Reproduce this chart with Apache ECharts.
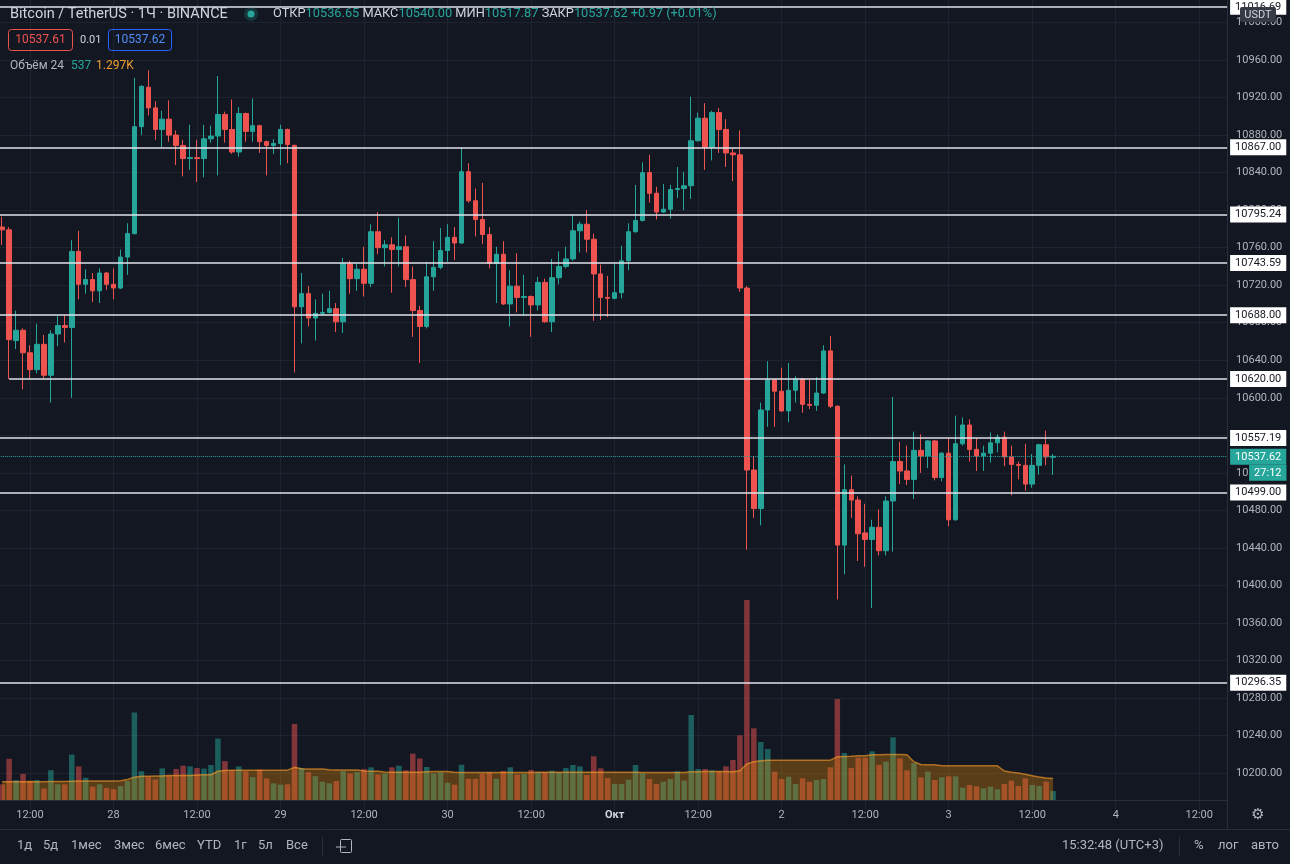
<!DOCTYPE html>
<html>
<head>
<meta charset="utf-8">
<script src="https://cdn.jsdelivr.net/npm/echarts@6/dist/echarts.min.js"></script>
<style>
html, body { margin: 0; padding: 0; background: #131722; }
#chart { width: 1290px; height: 864px; }
</style>
</head>
<body>
<div id="chart"></div>
<script>
// BTC/USDT 1h, Binance, 27 Sep 08:00 -> 3 Oct 15:00 (2020)
var startTime = Date.UTC(2020, 8, 27, 7);   // first (empty) slot on the axis
var slotCount = 178;
var firstCandle = 1;                         // slot of the first candle

var opens = [
  10782,10779,10661,10672,10648,10630,10657,10624,10668,10677,
  10675,10756,10721,10726,10714,10733,10721,10717,10750,10775,
  10889,10931,10909,10886,10897,10880,10869,10855,10856,10855,
  10876,10879,10902,10886,10862,10903,10884,10890,10873,10869,
  10871,10886,10869,10697,10711,10685,10690,10691,10695,10681,
  10743,10727,10737,10722,10777,10760,10763,10758,10761,10726,
  10693,10676,10729,10739,10757,10771,10765,10841,10810,10790,
  10774,10743,10753,10700,10719,10707,10708,10699,10723,10681,
  10728,10740,10748,10778,10785,10769,10732,10707,10706,10712,
  10746,10777,10789,10840,10818,10798,10801,10822,10823,10826,
  10874,10898,10867,10904,10886,10861,10859,10717,10523,10482,
  10587,10619,10607,10586,10608,10620,10593,10592,10605,10650,
  10591,10443,10502,10491,10456,10449,10462,10437,10490,10532,
  10522,10513,10544,10538,10554,10515,10541,10470,10551,10571,
  10545,10538,10541,10552,10558,10537,10529,10528,10508,10528,
  10550,10536.65
];
var highs = [
  10793,10782,10693,10674,10656,10679,10667,10672,10687,10688,
  10768,10778,10737,10733,10738,10734,10738,10758,10786,10941,
  10933,10949,10916,10906,10917,10885,10875,10891,10875,10891,
  10890,10943,10905,10918,10910,10904,10919,10891,10874,10876,
  10891,10887,10870,10733,10719,10705,10711,10714,10701,10749,
  10746,10743,10761,10785,10798,10768,10771,10792,10773,10740,
  10698,10745,10767,10781,10785,10782,10867,10850,10823,10829,
  10782,10761,10767,10736,10754,10731,10709,10729,10727,10748,
  10756,10761,10795,10788,10800,10775,10742,10730,10744,10762,
  10786,10827,10851,10859,10825,10828,10827,10846,10841,10921,
  10904,10914,10906,10909,10897,10866,10885,10719,10538,10595,
  10639,10620,10632,10637,10623,10621,10619,10622,10656,10666,
  10592,10529,10517,10495,10487,10470,10481,10495,10601,10553,
  10549,10564,10561,10555,10555,10542,10557,10581,10579,10577,
  10557,10549,10563,10561,10564,10549,10532,10551,10540,10551,
  10565,10540
];
var lows = [
  10763,10620,10652,10609,10620,10626,10621,10595,10655,10659,
  10600,10705,10711,10702,10701,10715,10705,10716,10731,10774,
  10880,10901,10875,10867,10873,10848,10836,10843,10830,10835,
  10872,10837,10872,10860,10857,10873,10873,10861,10837,10860,
  10848,10850,10627,10658,10676,10661,10688,10690,10670,10669,
  10711,10714,10708,10718,10753,10740,10712,10740,10718,10665,
  10637,10674,10714,10737,10745,10747,10764,10808,10772,10764,
  10738,10701,10699,10676,10691,10687,10665,10693,10680,10670,
  10721,10738,10746,10755,10755,10682,10683,10686,10705,10706,
  10736,10776,10788,10808,10790,10797,10791,10813,10800,10812,
  10873,10843,10853,10861,10846,10831,10713,10438,10472,10464,
  10569,10569,10585,10574,10595,10584,10588,10586,10604,10589,
  10385,10412,10472,10426,10420,10376,10432,10432,10436,10508,
  10507,10492,10520,10525,10512,10511,10463,10469,10549,10532,
  10522,10522,10531,10542,10527,10496,10513,10501,10504,10518,
  10528,10517.87
];
var closes = [
  10779,10662,10672,10648,10630,10657,10624,10668,10677,10675,
  10756,10721,10726,10714,10733,10721,10717,10750,10775,10889,
  10932,10909,10886,10897,10880,10869,10855,10856,10855,10876,
  10879,10902,10886,10862,10903,10884,10890,10873,10869,10871,
  10886,10870,10697,10711,10685,10690,10691,10695,10681,10743,
  10727,10737,10722,10777,10760,10763,10758,10761,10726,10693,
  10676,10729,10739,10757,10771,10765,10841,10810,10790,10774,
  10743,10753,10700,10719,10707,10708,10699,10723,10681,10728,
  10740,10748,10778,10785,10769,10732,10707,10706,10712,10746,
  10777,10789,10840,10818,10798,10801,10822,10823,10826,10874,
  10898,10867,10904,10886,10861,10859,10717,10523,10482,10587,
  10619,10607,10586,10608,10620,10593,10592,10605,10650,10591,
  10443,10502,10491,10455,10449,10462,10437,10490,10532,10522,
  10513,10544,10538,10554,10515,10541,10470,10551,10571,10545,
  10538,10541,10552,10558,10537,10529,10528,10508,10528,10550,
  10537,10537.62
];
var volumes = [
  941,2470,1196,1568,1137,1196,686,1784,941,941,
  2724,2019,1333,804,941,725,647,843,1137,5253,
  1725,1392,1235,1901,1470,1862,2058,2019,1921,1882,
  2097,3685,2332,1784,2019,1725,1372,1823,1294,1000,
  921,941,4567,1921,1666,1431,1098,1000,1137,1725,
  1588,1666,1862,1960,1529,1588,1960,2058,1784,2783,
  2489,1980,1588,1666,1039,921,2117,1274,1274,1588,
  1666,1274,1744,1960,1529,
  1560,1800,1660,1660,1760,1660,1920,2100,2020,1500,
  2620,1900,1320,960,960,1220,2100,1600,1260,960,
  1100,1260,1720,1160,5100,1860,1860,1780,1740,2020,
  2400,3880,12000,4300,3480,3060,1700,1260,1400,960,
  1300,1100,1200,1260,1960,6060,2820,1920,2540,2540,
  2920,2100,2300,3760,2500,1780,2220,1360,1700,1200,
  1360,1420,1420,740,900,820,700,800,640,960,
  1160,840,1300,900,840,1100,537
];
// volume moving average (24)
var volumeMA = [
  1090,1095,1100,1100,1105,1100,1100,1105,1110,1110,
  1130,1135,1140,1140,1140,1140,1145,1150,1235,1372,
  1420,1430,1435,1440,1465,1470,1470,1475,1505,1510,
  1515,1725,1770,1780,1784,1784,1790,1790,1785,1780,
  1784,1790,1960,1880,1862,1862,1855,1820,1805,1803,
  1800,1800,1740,1725,1720,1680,1670,1666,1666,1666,
  1670,1700,1705,1705,1705,1660,1650,1646,1646,1646,
  1646,1650,1650,1648,1646,
  1650,1655,1660,1660,1660,1662,1665,1665,1668,1668,
  1665,1665,1662,1660,1660,1660,1660,1655,1655,1650,
  1650,1650,1650,1645,1700,1700,1705,1705,1705,1705,
  1700,1760,2160,2300,2360,2380,2380,2380,2380,2380,
  2380,2380,2380,2385,2390,2600,2610,2620,2660,2660,
  2720,2720,2725,2730,2730,2720,2300,2130,2120,2110,
  2060,2060,2060,2060,2055,2060,2060,2060,2050,1740,
  1660,1620,1540,1460,1380,1320,1297
];
// horizontal levels drawn on the chart
var levels = [11016.69, 10867.00, 10795.24, 10743.59, 10688.00, 10557.19, 10499.00, 10296.35];
var rayLevel = 10620.00;       // ray starting at the second candle
var rayStartSlot = 2;
var lastPrice = 10537.62;
var countdown = '27:12';

var priceMin = 10160, priceMax = 11024, priceStep = 40;
var volumeMax = 14400;

var toolbarItems = ['1д', '5д', '1мес', '3мес', '6мес', 'YTD', '1г', '5л', 'Все'];
var toolbarX = [17, 43, 71, 114, 155, 197, 234, 258, 286];

var UP = '#26a69a', DOWN = '#ef5350';
var FONT = 'Roboto, sans-serif';

function pad(n) { return n < 10 ? '0' + n : '' + n; }
var categories = [];
for (var i = 0; i < slotCount; i++) {
  var d = new Date(startTime + i * 3600000);
  categories.push(d.getUTCFullYear() + '-' + pad(d.getUTCMonth() + 1) + '-' + pad(d.getUTCDate()) + ' ' + pad(d.getUTCHours()) + ':00');
}
function slotHour(v) { return parseInt(v.slice(11, 13), 10); }
function isMarkSlot(index, v) { var h = slotHour(v); return h === 0 || h === 12; }
function timeLabel(v) {
  var h = slotHour(v);
  if (h === 12) return '12:00';
  var day = parseInt(v.slice(8, 10), 10);
  return day === 1 ? '{m|Окт}' : String(day);
}

var candleData = [], volumeData = [], maData = [];
for (var s = 0; s < slotCount; s++) {
  var k = s - firstCandle;
  if (k >= 0 && k < opens.length) {
    candleData.push([opens[k], closes[k], lows[k], highs[k]]);
    var up = closes[k] >= opens[k];
    volumeData.push({ value: volumes[k], itemStyle: { color: up ? 'rgba(38,166,154,0.5)' : 'rgba(239,83,80,0.5)' } });
    maData.push(volumeMA[k]);
  } else {
    candleData.push('-');
    volumeData.push('-');
    maData.push('-');
  }
}

var levelLabel = {
  show: true, position: 'end', distance: 3,
  backgroundColor: '#ffffff', color: '#131722',
  padding: [3, 5, 2, 5], fontSize: 11, fontFamily: FONT
};
var levelLines = levels.map(function (v) {
  return { yAxis: v, label: { formatter: v.toFixed(2) } };
});
levelLines.push([
  { coord: [categories[rayStartSlot], rayLevel], label: { formatter: rayLevel.toFixed(2) } },
  { coord: [categories[slotCount - 1], rayLevel] }
]);

var toolbarGraphics = toolbarItems.map(function (t, i) {
  return { type: 'text', z: 100, style: { text: t, x: toolbarX[i], y: 846, verticalAlign: 'middle', fill: '#b2b5be', font: '13px ' + FONT } };
});

var option = {
  backgroundColor: '#131722',
  animation: false,
  grid: [
    { left: -4.8, right: 62.9, top: 0, height: 810.6, outerBoundsMode: 'none' },
    { left: -4.8, right: 62.9, top: 560, bottom: 64, outerBoundsMode: 'none' }
  ],
  xAxis: [
    {
      type: 'category', gridIndex: 0, data: categories, boundaryGap: false,
      axisLine: { show: false }, axisTick: { show: false },
      axisLabel: { show: false, interval: isMarkSlot },
      splitLine: { show: true, interval: isMarkSlot, lineStyle: { color: '#1f2330', width: 1 } }
    },
    {
      type: 'category', gridIndex: 1, data: categories, boundaryGap: false,
      axisLine: { show: true, lineStyle: { color: '#2a2e39' } },
      axisTick: { show: false },
      splitLine: { show: false },
      axisLabel: {
        interval: isMarkSlot, formatter: timeLabel, margin: 10,
        color: '#b2b5be', fontSize: 11, fontFamily: FONT,
        rich: { m: { color: '#d1d4dc', fontSize: 11, fontWeight: 'bold', fontFamily: FONT } }
      }
    }
  ],
  yAxis: [
    {
      type: 'value', gridIndex: 0, position: 'right',
      min: priceMin, max: priceMax, interval: priceStep,
      axisLine: { show: true, lineStyle: { color: '#2a2e39' } },
      axisTick: { show: false },
      axisLabel: {
        margin: 9, color: '#b2b5be', fontSize: 11, fontFamily: FONT,
        showMinLabel: false, showMaxLabel: false,
        formatter: function (v) { return v.toFixed(2); }
      },
      splitLine: { show: true, showMinLine: false, showMaxLine: false, lineStyle: { color: '#1f2330', width: 1 } }
    },
    {
      type: 'value', gridIndex: 1, min: 0, max: volumeMax, show: false
    }
  ],
  series: [
    {
      name: 'Объём', type: 'bar', xAxisIndex: 1, yAxisIndex: 1,
      data: volumeData, barWidth: 5.5, z: 1, silent: true
    },
    {
      name: 'MA', type: 'line', xAxisIndex: 1, yAxisIndex: 1,
      data: maData, symbol: 'none', z: 2, silent: true,
      lineStyle: { color: 'rgba(255,160,40,0.6)', width: 1.5 },
      areaStyle: { color: 'rgba(255,152,0,0.42)' }
    },
    {
      name: 'BTCUSDT', type: 'candlestick', xAxisIndex: 0, yAxisIndex: 0,
      data: candleData, barWidth: 5, z: 3, silent: true,
      itemStyle: { color: UP, color0: DOWN, borderColor: UP, borderColor0: DOWN, borderWidth: 1 },
      markLine: {
        silent: true, symbol: ['none', 'none'], animation: false,
        lineStyle: { color: '#e0e3eb', width: 1.5, type: 'solid' },
        label: levelLabel,
        data: levelLines.concat([
          {
            yAxis: lastPrice,
            lineStyle: { color: UP, width: 1, type: 'dotted' },
            label: {
              show: true, position: 'end', distance: 3, offset: [0, 8.5],
              backgroundColor: 'transparent', padding: 0,
              formatter: '{p|' + lastPrice.toFixed(2) + '}\n{s|}{t|' + countdown + '}',
              rich: {
                p: { backgroundColor: UP, color: '#ffffff', padding: [3, 5, 2, 5], fontSize: 11, fontFamily: FONT },
                s: { width: 19, fontSize: 11 },
                t: { backgroundColor: UP, color: '#ffffff', padding: [3, 5, 2, 5], fontSize: 11, fontFamily: FONT }
              }
            }
          }
        ])
      }
    }
  ],
  graphic: [
    { type: 'text', z: 100, style: { text: 'Bitcoin / TetherUS · 1Ч · BINANCE', x: 10, y: 14, verticalAlign: 'middle', fill: '#d1d4dc', font: '14.5px ' + FONT } },
    { type: 'circle', z: 100, shape: { cx: 251, cy: 14, r: 7 }, style: { fill: 'rgba(38,166,154,0.22)' } },
    { type: 'circle', z: 101, shape: { cx: 251, cy: 14, r: 3.5 }, style: { fill: UP } },
    {
      type: 'text', z: 100,
      style: {
        x: 273, y: 14, verticalAlign: 'middle', font: '12.8px ' + FONT,
        text: '{l|ОТКР}{v|10536.65} {l|МАКС}{v|10540.00} {l|МИН}{v|10517.87} {l|ЗАКР}{v|10537.62} {v|+0.97 (+0.01%)}',
        rich: {
          l: { fill: '#d1d4dc', fontSize: 12.8, fontFamily: FONT },
          v: { fill: UP, fontSize: 12.8, fontFamily: FONT }
        }
      }
    },
    { type: 'rect', z: 100, shape: { x: 8.5, y: 29.5, width: 64, height: 21, r: 3 }, style: { fill: 'none', stroke: DOWN, lineWidth: 1 } },
    { type: 'text', z: 100, style: { text: '10537.61', x: 40.5, y: 40, align: 'center', verticalAlign: 'middle', fill: DOWN, font: '12px ' + FONT } },
    { type: 'text', z: 100, style: { text: '0.01', x: 80, y: 40, verticalAlign: 'middle', fill: '#d1d4dc', font: '11px ' + FONT } },
    { type: 'rect', z: 100, shape: { x: 108.5, y: 29.5, width: 63, height: 21, r: 3 }, style: { fill: 'none', stroke: '#2962ff', lineWidth: 1 } },
    { type: 'text', z: 100, style: { text: '10537.62', x: 140, y: 40, align: 'center', verticalAlign: 'middle', fill: '#4f8ef7', font: '12px ' + FONT } },
    { type: 'text', z: 100, style: { text: 'Объём 24', x: 10, y: 66, verticalAlign: 'middle', fill: '#b2b5be', font: '12px ' + FONT } },
    { type: 'text', z: 100, style: { text: '537', x: 71, y: 66, verticalAlign: 'middle', fill: UP, font: '12px ' + FONT } },
    { type: 'text', z: 100, style: { text: '1.297K', x: 96, y: 66, verticalAlign: 'middle', fill: '#f0a030', font: '12px ' + FONT } },
    // currency badge on the price scale
    { type: 'rect', z: 110, shape: { x: 1240, y: 7, width: 36, height: 15, r: 2 }, style: { fill: '#363a45' } },
    { type: 'text', z: 111, style: { text: 'USDT', x: 1258, y: 15, align: 'center', verticalAlign: 'middle', fill: '#d1d4dc', font: '11px ' + FONT } },
    // scale corner + separators
    { type: 'line', z: 50, shape: { x1: 1227.5, y1: 800, x2: 1227.5, y2: 829 }, style: { stroke: '#2a2e39', lineWidth: 1 } },
    { type: 'rect', z: 49, shape: { x: 0, y: 829, width: 1290, height: 35 }, style: { fill: '#131722' } },
    { type: 'line', z: 50, shape: { x1: 0, y1: 829.5, x2: 1290, y2: 829.5 }, style: { stroke: '#2a2e39', lineWidth: 1 } },
    { type: 'text', z: 100, style: { text: '⚙', x: 1258, y: 815, align: 'center', verticalAlign: 'middle', fill: '#b2b5be', font: '15px "DejaVu Sans"' } },
    // bottom toolbar
    { type: 'line', z: 100, shape: { x1: 322.5, y1: 837, x2: 322.5, y2: 856 }, style: { stroke: '#2a2e39', lineWidth: 1 } },
    { type: 'rect', z: 100, shape: { x: 340.5, y: 839.5, width: 11, height: 13, r: 1 }, style: { fill: 'none', stroke: '#b2b5be', lineWidth: 1 } },
    { type: 'polyline', z: 100, shape: { points: [[336, 847], [346, 847]] }, style: { stroke: '#b2b5be', lineWidth: 1 } },
    { type: 'text', z: 100, style: { text: '15:32:48 (UTC+3)', x: 1062, y: 846, verticalAlign: 'middle', fill: '#b2b5be', font: '13px ' + FONT } },
    { type: 'line', z: 100, shape: { x1: 1179.5, y1: 837, x2: 1179.5, y2: 856 }, style: { stroke: '#2a2e39', lineWidth: 1 } },
    { type: 'text', z: 100, style: { text: '%', x: 1194, y: 846, verticalAlign: 'middle', fill: '#b2b5be', font: '13px ' + FONT } },
    { type: 'text', z: 100, style: { text: 'лог', x: 1218, y: 846, verticalAlign: 'middle', fill: '#b2b5be', font: '13px ' + FONT } },
    { type: 'text', z: 100, style: { text: 'авто', x: 1251, y: 846, verticalAlign: 'middle', fill: '#b2b5be', font: '13px ' + FONT } }
  ].concat(toolbarGraphics)
};

var myChart = echarts.init(document.getElementById('chart'));
myChart.setOption(option);
</script>
</body>
</html>
